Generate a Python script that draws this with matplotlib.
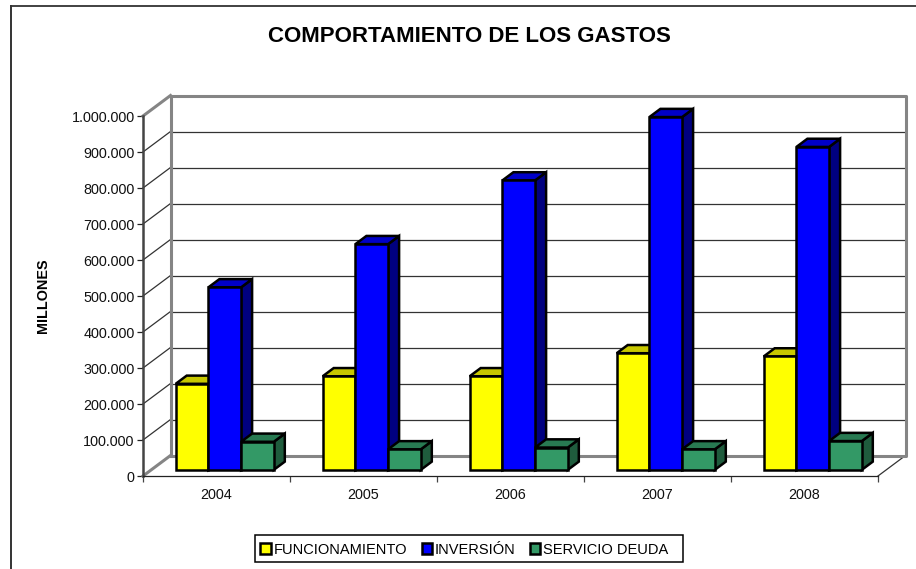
import matplotlib
matplotlib.use('Agg')
import matplotlib.pyplot as plt
from matplotlib.patches import Patch, Polygon, Rectangle

# Chart data
years = ['2004', '2005', '2006', '2007', '2008']
funcionamiento = [239000, 260000, 260000, 324000, 315000]
inversion = [507000, 627000, 804000, 980000, 897000]
servicio_deuda = [78000, 57000, 62000, 57000, 80000]
y_ticks = [0, 100000, 200000, 300000, 400000, 500000, 600000, 700000, 800000, 900000, 1000000]
y_labels = ['0', '100.000', '200.000', '300.000', '400.000', '500.000', '600.000',
            '700.000', '800.000', '900.000', '1.000.000']

W, H = 916, 569
plt.rcParams['font.family'] = ['Liberation Sans', 'DejaVu Sans']

fig = plt.figure(figsize=(W / 100, H / 100), dpi=100)
ax = fig.add_axes([143 / W, 1 - 476 / H, 735 / W, 360 / H])
ax.set_xlim(0, 5)
ax.set_ylim(0, 1000000)

# depth of the fake 3D box, in data units
depth_x = 27.5 / 147
depth_y = 20.5 / 360 * 1000000
bar_w = 32.7 / 147

GREY = '#858585'
wall = dict(color=GREY, lw=2.2, clip_on=False, zorder=2, solid_capstyle='projecting')
thin = dict(color='#333333', lw=0.9, clip_on=False, zorder=1.5)

# gridlines on the back wall and on the left wall
for v in y_ticks[1:-1]:
    ax.plot([depth_x, 5 + depth_x], [v + depth_y] * 2, **thin)
    ax.plot([0, depth_x], [v, v + depth_y], **thin)

# back wall outline
ax.plot([depth_x, depth_x, 5 + depth_x, 5 + depth_x, depth_x],
        [depth_y, 1000000 + depth_y, 1000000 + depth_y, depth_y, depth_y], **wall)
ax.plot([0, depth_x], [0, depth_y], **wall)
ax.plot([0, depth_x], [1000000, 1000000 + depth_y], **wall)
ax.plot([5, 5 + depth_x], [0, depth_y], **thin)

# bars, left to right so the next bar covers the previous side
f0, f1 = 0.3, 0.7
series = [
    (funcionamiento, '#FFFF00', '#C8C800', '#808000'),
    (inversion, '#0000FF', '#0000C8', '#000080'),
    (servicio_deuda, '#339966', '#287A52', '#1F5C3D'),
]
edge = dict(edgecolor='black', lw=1.8, joinstyle='miter', clip_on=False, zorder=3)
for i in range(len(years)):
    for j, (values, front, top, dark) in enumerate(series):
        v = values[i]
        x0 = i + 0.5 + (j - 1.5) * bar_w + depth_x * f0
        x1 = x0 + bar_w
        y0 = depth_y * f0
        y1 = y0 + v
        d = depth_x * (f1 - f0)
        e = depth_y * (f1 - f0)
        ax.add_patch(Polygon([(x1, y0), (x1 + d, y0 + e), (x1 + d, y1 + e), (x1, y1)], facecolor=dark, **edge))
        ax.add_patch(Polygon([(x0, y1), (x0 + d, y1 + e), (x1 + d, y1 + e), (x1, y1)], facecolor=top, **edge))
        ax.add_patch(Rectangle((x0, y0), bar_w, v, facecolor=front, **edge))

# axes and ticks
for s in ['top', 'right']:
    ax.spines[s].set_visible(False)
ax.patch.set_alpha(0)
ax.spines['left'].set_color('#444444')
ax.spines['left'].set_linewidth(1.8)
ax.spines['bottom'].set_color('#222222')
ax.spines['bottom'].set_linewidth(0.9)
ax.set_yticks(y_ticks)
ax.set_yticklabels(y_labels, fontsize=10.4, color='#111111')
ax.set_xticks(range(6))
ax.set_xticklabels([])
ax.set_xticks([i + 0.5 for i in range(5)], minor=True)
ax.set_xticklabels(years, minor=True, fontsize=10.4, color='#111111')
ax.tick_params(axis='y', length=4.5, width=0.9, pad=1.5, color='#222222')
ax.tick_params(axis='x', which='major', length=4.5, width=0.9, color='#444444')
ax.tick_params(axis='x', which='minor', length=0, pad=8.5)
ax.set_ylabel('MILLONES', fontsize=10.4, fontweight='bold', labelpad=0)
ax.yaxis.set_label_coords((50 - 143) / 735, (476 - 296) / 360)

fig.text(469 / W, 1 - 37 / H, 'COMPORTAMIENTO DE LOS GASTOS', ha='center', va='center',
         fontsize=16, fontweight='bold')

# legend, the box is wider on the right than matplotlib would make it
handles = [Patch(facecolor=c, edgecolor='black', lw=1.8, label=n) for c, n in
           [('#FFFF00', 'FUNCIONAMIENTO'), ('#0000FF', 'INVERSIÓN'), ('#339966', 'SERVICIO DEUDA')]]
fig.add_artist(Rectangle((254.5 / W, 1 - 562 / H), 428 / W, 27 / H, transform=fig.transFigure,
                         facecolor='white', edgecolor='black', lw=1.1))
fig.legend(handles=handles, loc='center', bbox_to_anchor=(464.5 / W, 1 - 549.5 / H), ncol=3,
           fontsize=10.5, frameon=False,
           handlelength=0.7, handleheight=0.7, handletextpad=0.2, columnspacing=1.0,
           borderpad=0.4, borderaxespad=0)

# outer frame of the chart, cut off by the image at the right and bottom
fig.add_artist(plt.Line2D([10.5 / W, 10.5 / W], [0, 1 - 6 / H], color='#333333', lw=1.4))
fig.add_artist(plt.Line2D([10.5 / W, 1], [1 - 6 / H, 1 - 6 / H], color='#333333', lw=1.3))

fig.savefig('out.png', dpi=100)
